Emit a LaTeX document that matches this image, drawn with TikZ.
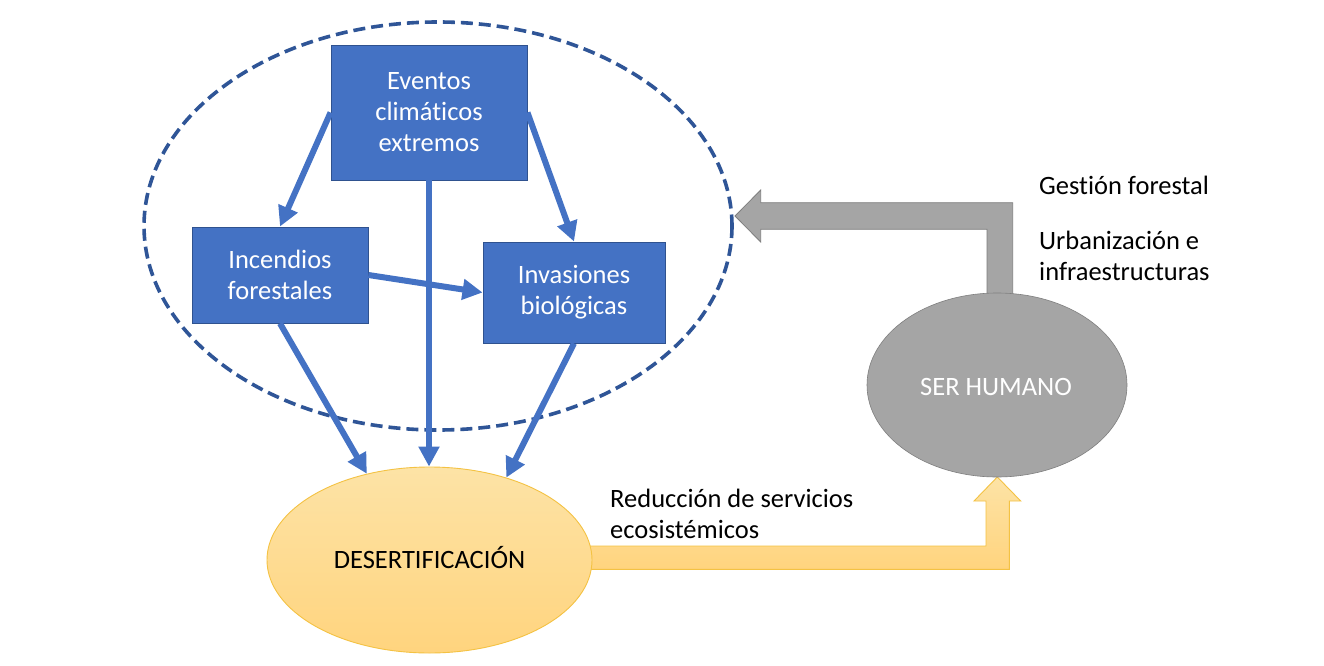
\documentclass[tikz,border=0pt]{standalone}
\usepackage{fontspec}
\setmainfont{Carlito}[Ligatures=NoCommon]
\usetikzlibrary{arrows.meta,shapes.geometric,calc}
\definecolor{bl}{HTML}{4472C4}
\definecolor{bldark}{HTML}{2F528F}
\definecolor{dashcol}{HTML}{2F5597}
\definecolor{ytop}{HTML}{FDE3A6}
\definecolor{ybot}{HTML}{FFD47E}
\definecolor{yedge}{HTML}{F4C243}
\definecolor{gfill}{HTML}{A5A5A5}
\definecolor{gedge}{HTML}{7F7F7F}
\begin{document}
\begin{tikzpicture}[x=1pt,y=-1pt,
  every node/.style={font=\fontsize{26.5}{31}\selectfont, inner sep=0pt},
  bluebox/.style={rectangle, draw=bldark, line width=0.9pt, fill=bl, text=white, align=center},
  bluearrow/.style={draw=bl, line width=6pt, -{Triangle[length=20pt,width=20pt]}},
  yellowell/.style={ellipse, draw=yedge, line width=0.9pt, top color=ytop, bottom color=ybot},
  grayell/.style={ellipse, draw=gedge, line width=0.6pt, fill=gfill, text=white},
  grayblock/.style={draw=gedge, line width=0.8pt, fill=gfill},
  yellowblock/.style={draw=yedge, line width=0.9pt, top color=ytop, bottom color=ybot},
  lbl/.style={text=black, align=left}]
\useasboundingbox[fill=white] (0,0) rectangle (1324,666);

% dashed grouping ellipse
\draw[dashcol, line width=3.6pt, dash pattern=on 12pt off 6pt] (438,226) ellipse [x radius=294, y radius=204];

% boxes
\node[bluebox, minimum width=196pt, minimum height=135pt] (ev) at (429,112.5) {Eventos\\climáticos\\extremos};
\node[bluebox, minimum width=176pt, minimum height=96pt] (inc) at (280,275) {Incendios\\forestales};
\node[bluebox, minimum width=182pt, minimum height=101pt] (inv) at (574,292.5) {Invasiones\\biológicas};

% block arrows (drawn below the ellipses)
\coordinate (ystart) at (585,546);
\coordinate (gtip) at (735,216);
\path[yellowblock] (ystart) -- (986,546) -- (986,501) -- (974,501) -- (997.3,477) -- (1020.7,501) -- (1009.3,501) -- (1009.3,569.3) -- (585,569.3) -- cycle;
\path[grayblock] (987,300) -- (987,229.3) -- (760.7,229.3) -- (760.7,242) -- (gtip) -- (760.7,190) -- (760.7,202.7) -- (1012.7,202.7) -- (1012.7,300) -- cycle;

% ellipses
\node[yellowell, minimum width=325pt, minimum height=186pt] (des) at (429.5,560) {};
\node[anchor=base] (destext) at (429.5,568) {DESERTIFICACIÓN};
\node[grayell, minimum width=260pt, minimum height=184pt] (hum) at (997,385) {};
\node[anchor=base, text=white] (humtext) at (996,395) {SER HUMANO};

% blue arrows
\draw[bluearrow] (ev.west) -- (inc.north);
\draw[bluearrow] (ev.east) -- (inv.north);
\draw[bluearrow] (ev.south) -- (ev.south |- des.north);
\draw[bluearrow] (inc.east) -- (inv.west);
\draw[bluearrow] (inc.south) -- (des.126.6);
\draw[bluearrow] (inv.south) -- (des.47.8);

% labels
\node[lbl, anchor=base west] (gest) at (1039,194) {Gestión forestal};
\node[lbl, anchor=base west] (urb1) at (1039,249) {Urbanización e};
\node[lbl, anchor=base west] (urb2) at (1039,280) {infraestructuras};
\node[lbl, anchor=base west] (red1) at (610,507) {Reducción de servicios};
\node[lbl, anchor=base west] (red2) at (610,538) {ecosistémicos};
\end{tikzpicture}
\end{document}
